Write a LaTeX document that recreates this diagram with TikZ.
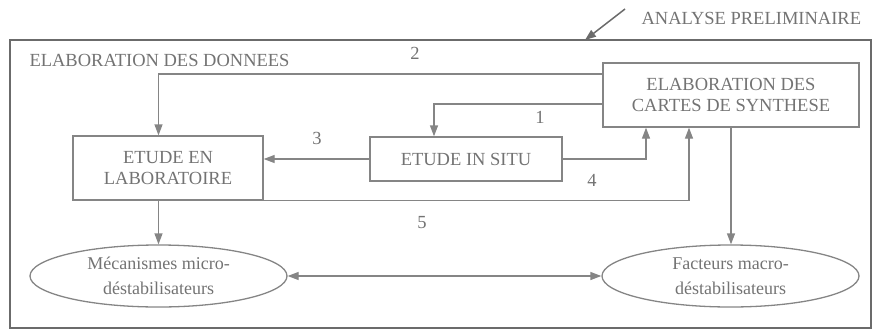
\documentclass[tikz,border=0pt]{standalone}
\usepackage{fontspec}
\setmainfont{Liberation Serif}
\usetikzlibrary{arrows.meta,shapes.geometric}
\colorlet{trait}{black!48}
\colorlet{texte}{black!55}
\tikzset{
  boite/.style={draw=trait,line width=1.3pt,align=center,text=texte,inner sep=0pt,
    font=\fontsize{18.5}{21.5}\selectfont},
  bulle/.style={ellipse,draw=trait,line width=1.3pt,align=center,text=texte,inner sep=0pt,
    minimum width=257pt,minimum height=62pt,font=\fontsize{18}{25}\selectfont},
  num/.style={text=texte,font=\fontsize{18.5}{20}\selectfont},
  fleche/.style={draw=trait,line width=1.3pt,-{Triangle[length=11pt,width=8pt]}}
}
\begin{document}
\begin{tikzpicture}[x=1pt,y=-1pt]
   \useasboundingbox (0,0) rectangle (875,335);
   % cadre
   \draw[draw=black!58,line width=2.3pt] (10,40) rectangle (871,328);
   \node[num,anchor=west] (titre) at (26,60) {ELABORATION DES DONNEES};
   \node[num,anchor=west] (analyse) at (638,18) {ANALYSE PRELIMINAIRE};
   \coordinate (fA) at (625,9);
   \coordinate (fB) at (585,40);
   \draw[draw=black!58,line width=1.5pt,-{Triangle[length=11pt,width=8pt]}] (fA) -- (fB);

   % boites
   \node[boite,minimum width=190pt,minimum height=64pt] (labo) at (168,168) {ETUDE EN\\LABORATOIRE};
   \node[boite,minimum width=192pt,minimum height=44pt] (situ) at (466,159) {ETUDE IN SITU};
   \node[boite,minimum width=256pt,minimum height=64pt] (cartes) at (731,95) {ELABORATION DES\\CARTES DE SYNTHESE};
   \node[bulle] (micro) at (158.5,276) {M\'ecanismes micro-\\d\'estabilisateurs};
   \node[bulle] (macro) at (730.5,276) {Facteurs macro-\\d\'estabilisateurs};

   % liaisons
   \draw[fleche] ([yshift=21pt]cartes.west) -| (labo.north -| micro.north);
   \draw[fleche] ([yshift=-9pt]cartes.west) -| ([xshift=-32pt]situ.north);
   \draw[fleche] (situ.west) -- (situ.west -| labo.east);
   \draw[fleche] (situ.east) -| ([xshift=-85pt]cartes.south);
   \draw[fleche] (labo.south east) -| ([xshift=-42pt]cartes.south);
   \draw[fleche] (micro.north |- labo.south) -- (micro.north);
   \draw[fleche] (cartes.south) -- (cartes.south |- macro.north);
   \draw[fleche,{Triangle[length=11pt,width=8pt]}-{Triangle[length=11pt,width=8pt]}] (micro) -- (macro);

   % numeros
   \node[num] (n1) at (540,117) {1};
   \node[num] (n2) at (415,53) {2};
   \node[num] (n3) at (317,138) {3};
   \node[num] (n4) at (592,180) {4};
   \node[num] (n5) at (422,223) {5};
\end{tikzpicture}
\end{document}
